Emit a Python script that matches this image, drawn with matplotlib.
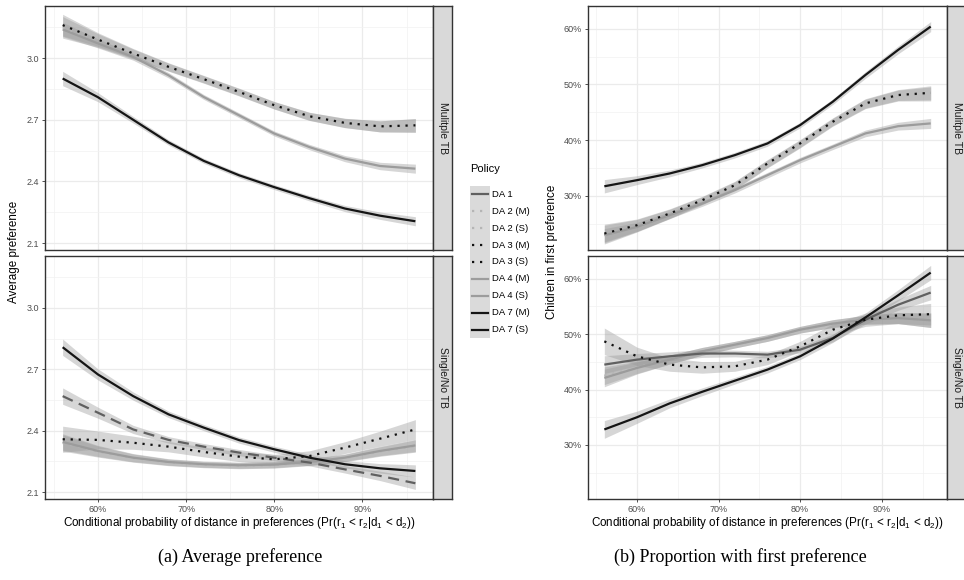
import numpy as np
import matplotlib.pyplot as plt
from matplotlib.ticker import FuncFormatter
from matplotlib.lines import Line2D

plt.rcParams['font.family'] = ['Liberation Sans', 'DejaVu Sans']
plt.rcParams['mathtext.fontset'] = 'custom'
plt.rcParams['mathtext.rm'] = 'Liberation Sans'
plt.rcParams['mathtext.it'] = 'Liberation Sans'

W, H = 964, 580

# x grid (conditional probability)
x = [0.56, 0.60, 0.64, 0.68, 0.72, 0.76, 0.80, 0.84, 0.88, 0.92, 0.96]

# (a) average preference, multiple TB
avg_m_da2 = [3.150, 3.086, 3.020, 2.956, 2.896, 2.834, 2.770, 2.716, 2.684, 2.668, 2.672]
avg_m_da3 = [3.161, 3.091, 3.023, 2.958, 2.898, 2.836, 2.771, 2.717, 2.685, 2.668, 2.673]
avg_m_da4 = [3.140, 3.072, 3.006, 2.917, 2.811, 2.722, 2.633, 2.567, 2.511, 2.475, 2.462]
avg_m_da7 = [2.901, 2.810, 2.700, 2.590, 2.500, 2.430, 2.372, 2.318, 2.268, 2.233, 2.206]
# (a) average preference, single/no TB
avg_s_da1 = [2.569, 2.488, 2.406, 2.355, 2.322, 2.293, 2.268, 2.244, 2.211, 2.179, 2.143]
avg_s_da2 = [2.340, 2.298, 2.266, 2.245, 2.234, 2.229, 2.232, 2.245, 2.266, 2.298, 2.325]
avg_s_da3 = [2.358, 2.355, 2.341, 2.322, 2.296, 2.273, 2.260, 2.276, 2.317, 2.361, 2.406]
avg_s_da4 = [2.345, 2.301, 2.268, 2.247, 2.236, 2.231, 2.234, 2.247, 2.268, 2.301, 2.328]
avg_s_da7 = [2.808, 2.675, 2.569, 2.480, 2.415, 2.354, 2.309, 2.268, 2.236, 2.216, 2.203]
se_avg_m = [0.035, 0.022, 0.016, 0.013, 0.012, 0.012, 0.012, 0.013, 0.015, 0.018, 0.022]
se_avg_s = [0.040, 0.027, 0.020, 0.016, 0.015, 0.015, 0.015, 0.016, 0.018, 0.023, 0.030]

# (b) share with first preference, multiple TB
first_m_da2 = [0.230, 0.246, 0.267, 0.291, 0.318, 0.357, 0.393, 0.432, 0.465, 0.480, 0.483]
first_m_da3 = [0.232, 0.247, 0.268, 0.292, 0.319, 0.358, 0.394, 0.433, 0.466, 0.481, 0.485]
first_m_da4 = [0.229, 0.244, 0.265, 0.286, 0.310, 0.337, 0.364, 0.388, 0.412, 0.425, 0.430]
first_m_da7 = [0.317, 0.328, 0.340, 0.355, 0.373, 0.394, 0.427, 0.469, 0.517, 0.562, 0.604]
# (b) share with first preference, single/no TB
first_s_da1 = [0.445, 0.454, 0.460, 0.465, 0.465, 0.463, 0.472, 0.493, 0.526, 0.553, 0.575]
first_s_da2 = [0.425, 0.440, 0.454, 0.469, 0.481, 0.493, 0.508, 0.519, 0.526, 0.529, 0.525]
first_s_da3 = [0.487, 0.460, 0.445, 0.440, 0.442, 0.454, 0.478, 0.508, 0.526, 0.534, 0.536]
first_s_da4 = [0.421, 0.439, 0.454, 0.469, 0.481, 0.493, 0.508, 0.519, 0.526, 0.529, 0.525]
first_s_da7 = [0.328, 0.350, 0.375, 0.396, 0.416, 0.436, 0.460, 0.492, 0.530, 0.570, 0.611]
se_first_m = [0.012, 0.008, 0.006, 0.005, 0.005, 0.005, 0.005, 0.005, 0.006, 0.007, 0.009]
se_first_s = [0.016, 0.011, 0.008, 0.007, 0.006, 0.006, 0.006, 0.007, 0.008, 0.010, 0.013]

policies = ['DA 1', 'DA 2 (M)', 'DA 2 (S)', 'DA 3 (M)', 'DA 3 (S)',
            'DA 4 (M)', 'DA 4 (S)', 'DA 7 (M)', 'DA 7 (S)']

DOT = (0, (1.0, 2.6))
style = {
    'DA 1': dict(color='#606060', ls='-'),
    'DA 2': dict(color='#b5b5b5', ls=DOT),
    'DA 3': dict(color='#111111', ls=DOT),
    'DA 4': dict(color='#9c9c9c', ls='-'),
    'DA 7': dict(color='#151515', ls='-'),
}


def box(l, t, r, b):
    return [l / W, 1 - b / H, (r - l) / W, (b - t) / H]


fig = plt.figure(figsize=(W / 100, H / 100), dpi=100)


def panel(rect, ylim, yticks, yminor, pct, bottom):
    ax = fig.add_axes(rect)
    ax.set_xlim(0.54, 0.98)
    ax.set_ylim(*ylim)
    ax.set_xticks([0.6, 0.7, 0.8, 0.9])
    ax.set_xticks([0.55, 0.65, 0.75, 0.85, 0.95], minor=True)
    ax.set_yticks(yticks)
    ax.set_yticks(yminor, minor=True)
    ax.grid(True, which='major', color='#ebebeb', lw=0.9)
    ax.grid(True, which='minor', color='#f2f2f2', lw=0.5)
    ax.set_axisbelow(True)
    for s in ax.spines.values():
        s.set_color('#333333')
        s.set_linewidth(1.0)
    ax.tick_params(which='minor', length=0)
    ax.tick_params(which='major', length=2.5, width=0.6, color='#333333',
                   labelsize=6.5, labelcolor='#4d4d4d', pad=2)
    if pct:
        ax.yaxis.set_major_formatter(FuncFormatter(lambda v, p: '%d%%' % round(v * 100)))
    else:
        ax.yaxis.set_major_formatter(FuncFormatter(lambda v, p: '%.1f' % v))
    ax.xaxis.set_major_formatter(FuncFormatter(lambda v, p: '%d%%' % round(v * 100)))
    if not bottom:
        ax.tick_params(axis='x', length=0, labelbottom=False)
    return ax


def strip(rect, label):
    s = fig.add_axes(rect)
    s.set_facecolor('#d9d9d9')
    s.set_xticks([])
    s.set_yticks([])
    for sp in s.spines.values():
        sp.set_color('#333333')
        sp.set_linewidth(1.0)
    s.text(0.5, 0.5, label, rotation=-90, ha='center', va='center',
           fontsize=7.5, color='#1a1a1a', transform=s.transAxes)


def smooth(ax, y, se, key, scale=1.0, ls=None):
    y = np.array(y)
    e = np.array(se) * scale
    ax.fill_between(x, y - e, y + e, color='#999999', alpha=0.4, lw=0)
    st = style[key]
    ax.plot(x, y, color=st['color'], ls=ls if ls else st['ls'], lw=1.6,
            dash_capstyle='butt', solid_capstyle='butt', solid_joinstyle='round')


avg_lim = (2.066, 3.254)
avg_ticks = [2.1, 2.4, 2.7, 3.0]
avg_minor = [2.25, 2.55, 2.85, 3.15]
first_lim = (0.2025, 0.641)
first_ticks = [0.3, 0.4, 0.5, 0.6]
first_minor = [0.25, 0.35, 0.45, 0.55]

# (a) top: multiple TB
a1 = panel(box(45, 6, 433, 250), avg_lim, avg_ticks, avg_minor, False, False)
smooth(a1, avg_m_da4, se_avg_m, 'DA 4')
smooth(a1, avg_m_da7, se_avg_m, 'DA 7')
smooth(a1, avg_m_da2, se_avg_m, 'DA 2', 1.5)
smooth(a1, avg_m_da3, se_avg_m, 'DA 3', 1.5)
strip(box(433, 6, 452, 250), 'Mulitple TB')

# (a) bottom: single/no TB
a2 = panel(box(45, 256, 433, 499), avg_lim, avg_ticks, avg_minor, False, True)
smooth(a2, avg_s_da2, se_avg_s, 'DA 2')
smooth(a2, avg_s_da4, se_avg_s, 'DA 4')
smooth(a2, avg_s_da1, se_avg_s, 'DA 1', ls=(0, (5, 3)))
smooth(a2, avg_s_da7, se_avg_s, 'DA 7')
smooth(a2, avg_s_da3, se_avg_s, 'DA 3', 1.6)
strip(box(433, 256, 452, 499), 'Single/No TB')

# (b) top: multiple TB
b1 = panel(box(588, 6, 947, 250), first_lim, first_ticks, first_minor, True, False)
smooth(b1, first_m_da4, se_first_m, 'DA 4')
smooth(b1, first_m_da7, se_first_m, 'DA 7')
smooth(b1, first_m_da2, se_first_m, 'DA 2', 1.4)
smooth(b1, first_m_da3, se_first_m, 'DA 3', 1.4)
strip(box(947, 6, 966, 250), 'Mulitple TB')

# (b) bottom: single/no TB
b2 = panel(box(588, 256, 947, 499), first_lim, first_ticks, first_minor, True, True)
smooth(b2, first_s_da2, se_first_s, 'DA 2')
smooth(b2, first_s_da4, se_first_s, 'DA 4')
smooth(b2, first_s_da1, se_first_s, 'DA 1')
smooth(b2, first_s_da7, se_first_s, 'DA 7')
smooth(b2, first_s_da3, se_first_s, 'DA 3', 1.5)
strip(box(947, 256, 966, 499), 'Single/No TB')

# axis titles
xlab = 'Conditional probability of distance in preferences (Pr(r$_1$ < r$_2$|d$_1$ < d$_2$))'
fig.text(239 / W, 1 - 523 / H, xlab, ha='center', va='center', fontsize=8.4)
fig.text(767 / W, 1 - 523 / H, xlab, ha='center', va='center', fontsize=8.4)
fig.text(14 / W, 1 - 252 / H, 'Average preference', rotation=90,
         ha='center', va='center', fontsize=8.4)
fig.text(552 / W, 1 - 252 / H, 'Chidren in first preference', rotation=90,
         ha='center', va='center', fontsize=8.4)

# legend
fig.text(470 / W, 1 - 169 / H, 'Policy', ha='left', va='center', fontsize=8)
lg = fig.add_axes(box(470, 186, 490, 338))
lg.set_xlim(0, 1)
lg.set_ylim(len(policies), 0)
lg.set_facecolor('#dadada')
lg.set_xticks([])
lg.set_yticks([])
for sp in lg.spines.values():
    sp.set_visible(False)
for i, name in enumerate(policies):
    st = style[name[:4]]
    lg.add_line(Line2D([0.1, 0.9], [i + 0.5, i + 0.5], color=st['color'],
                       ls=st['ls'], lw=1.6, dash_capstyle='butt'))
    fig.text(492 / W, 1 - (186 + (i + 0.5) * 152 / 9) / H, name,
             ha='left', va='center', fontsize=6.8)

# captions
fig.text(240 / W, 1 - 557 / H, '(a) Average preference', ha='center', va='center',
         fontsize=13, family='Liberation Serif')
fig.text(740 / W, 1 - 557 / H, '(b) Proportion with first preference', ha='center',
         va='center', fontsize=13, family='Liberation Serif')

fig.savefig('out.png', dpi=100)
